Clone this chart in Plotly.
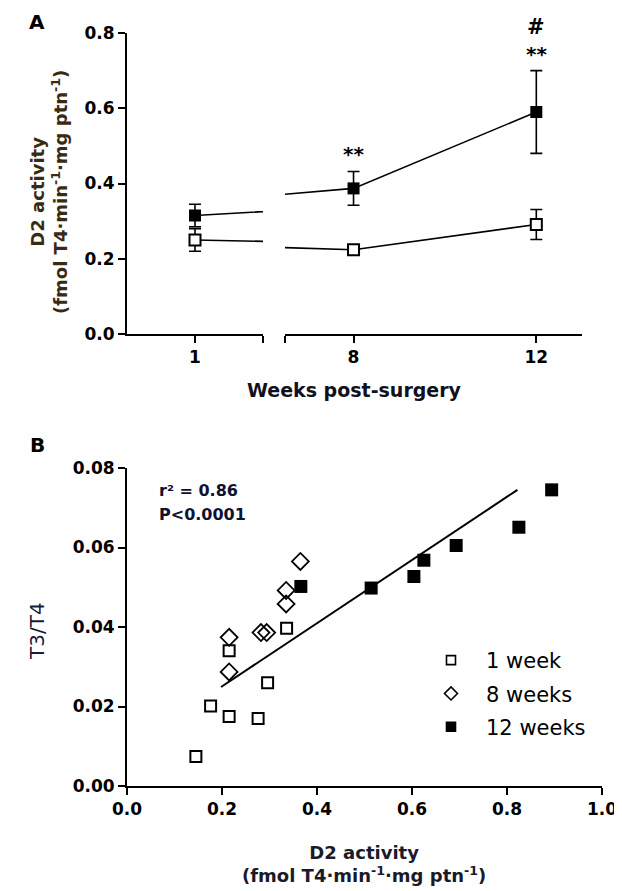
import plotly.graph_objects as go

# ---------------- Panel A data ----------------
weeks = [1, 8, 12]
week_labels = ["1", "8", "12"]
open_mean = [0.250, 0.224, 0.291]
open_sem = [0.030, 0.010, 0.040]
filled_mean = [0.315, 0.387, 0.590]
filled_sem = [0.030, 0.045, 0.110]
sig_week8 = "**"
sig_week12_a = "**"
sig_week12_b = "#"

# ---------------- Panel B data ----------------
w1_d2 = [0.145, 0.176, 0.215, 0.276, 0.296, 0.215, 0.336]
w1_t3t4 = [0.0074, 0.0201, 0.0175, 0.0170, 0.0260, 0.0340, 0.0397]
w8_d2 = [0.215, 0.215, 0.282, 0.294, 0.335, 0.335, 0.365]
w8_t3t4 = [0.0374, 0.0287, 0.0386, 0.0386, 0.0492, 0.0458, 0.0565]
w12_d2 = [0.366, 0.514, 0.604, 0.625, 0.693, 0.825, 0.894]
w12_t3t4 = [0.0502, 0.0498, 0.0527, 0.0568, 0.0605, 0.0651, 0.0745]
fit_d2 = [0.198, 0.822]
fit_t3t4 = [0.0249, 0.0745]
stats_r2 = "r² = 0.86"
stats_p = "P<0.0001"
legend_names = ["1 week", "8 weeks", "12 weeks"]

FONT = "DejaVu Sans, Arial, sans-serif"
W, H = 622, 891
OFF = 8  # page body margin


def px(x):
    return (x - OFF) / W


def py(y):
    return 1 - (y - OFF) / H


fig = go.Figure()

# Panel A traces, drawn on both broken x-axis segments
for xa in ["x", "x2"]:
    fig.add_trace(go.Scatter(
        x=weeks, y=filled_mean, xaxis=xa, yaxis="y", mode="lines+markers",
        line=dict(color="black", width=1.6),
        marker=dict(symbol="square", size=12, color="black"),
        error_y=dict(type="data", array=filled_sem, color="black", thickness=1.6, width=6),
        showlegend=False, cliponaxis=False))
    fig.add_trace(go.Scatter(
        x=weeks, y=open_mean, xaxis=xa, yaxis="y", mode="lines+markers",
        line=dict(color="black", width=1.6),
        marker=dict(symbol="square", size=11, color="white", line=dict(color="black", width=2)),
        error_y=dict(type="data", array=open_sem, color="black", thickness=1.6, width=6),
        showlegend=False, cliponaxis=False))

# Panel B traces
fig.add_trace(go.Scatter(
    x=fit_d2, y=fit_t3t4, xaxis="x3", yaxis="y3", mode="lines",
    line=dict(color="black", width=2), showlegend=False))
sym = ["square-open", "diamond-open", "square"]
fig.add_trace(go.Scatter(
    x=w1_d2, y=w1_t3t4, xaxis="x3", yaxis="y3", mode="markers", name=legend_names[0],
    marker=dict(symbol=sym[0], size=11, color="black", line=dict(width=2)),
    showlegend=False, cliponaxis=False))
fig.add_trace(go.Scatter(
    x=w8_d2, y=w8_t3t4, xaxis="x3", yaxis="y3", mode="markers", name=legend_names[1],
    marker=dict(symbol=sym[1], size=13, color="black", line=dict(width=1.8)),
    showlegend=False, cliponaxis=False))
fig.add_trace(go.Scatter(
    x=w12_d2, y=w12_t3t4, xaxis="x3", yaxis="y3", mode="markers", name=legend_names[2],
    marker=dict(symbol=sym[2], size=13, color="black"),
    showlegend=False, cliponaxis=False))
# legend entries (smaller symbols, as in the reference legend)
for i, nm in enumerate(legend_names):
    fig.add_trace(go.Scatter(
        x=[None], y=[None], xaxis="x3", yaxis="y3", mode="markers", name=nm,
        legendgroup=nm,
        marker=dict(symbol=sym[i], size=9 if i != 1 else 10, color="black",
                    line=dict(width=1.6, color="black"))))

tickfont = dict(family=FONT, size=17, color="black", weight="bold")
axis_common = dict(showline=True, linecolor="black", linewidth=2, ticks="outside",
                   ticklen=7, tickwidth=2, tickcolor="black", showgrid=False,
                   zeroline=False, tickfont=tickfont, automargin=False)

fig.update_layout(
    width=W, height=H, margin=dict(l=0, r=0, t=0, b=0),
    paper_bgcolor="white", plot_bgcolor="white",
    font=dict(family=FONT, color="black"),
    xaxis=dict(domain=[px(127), px(263)], range=[0, 2], anchor="y",
               tickvals=[1, 2], ticktext=[week_labels[0], ""], **axis_common),
    xaxis2=dict(domain=[px(285), px(582)], range=[6.5, 13], anchor="y",
                tickvals=[6.5, 8, 12], ticktext=["", week_labels[1], week_labels[2]],
                **axis_common),
    yaxis=dict(domain=[py(334), py(33)], range=[0, 0.8], anchor="x",
               tickvals=[0, 0.2, 0.4, 0.6, 0.8], tickformat=".1f", **axis_common),
    xaxis3=dict(domain=[px(127), px(602)], range=[0, 1.0], anchor="y3",
                tickvals=[0, 0.2, 0.4, 0.6, 0.8, 1.0], tickformat=".1f", **axis_common),
    yaxis3=dict(domain=[py(786), py(468)], range=[0, 0.08], anchor="x3",
                tickvals=[0, 0.02, 0.04, 0.06, 0.08], tickformat=".2f", **axis_common),
    legend=dict(x=px(416), y=py(640), xanchor="left", yanchor="top",
                font=dict(family=FONT, size=21, color="black"),
                itemwidth=60, tracegroupgap=3, bgcolor="rgba(0,0,0,0)"),
)


def label(x, y, text, size, bold=True, color="black", angle=0, xanchor="center",
          yanchor="middle"):
    f = dict(family=FONT, size=size, color=color)
    if bold:
        f["weight"] = "bold"
    return dict(x=px(x), y=py(y), xref="paper", yref="paper", text=text,
                textangle=angle, showarrow=False, xanchor=xanchor, yanchor=yanchor,
                font=f)


ann = []
# Significance marks
ann.append(dict(x=weeks[1], y=filled_mean[1] + filled_sem[1], xref="x2", yref="y",
                text=sig_week8, showarrow=False, xanchor="center", yanchor="bottom",
                yshift=3, font=dict(family=FONT, size=20, color="black", weight="bold")))
ann.append(dict(x=weeks[2], y=filled_mean[2] + filled_sem[2], xref="x2", yref="y",
                text=sig_week12_a, showarrow=False, xanchor="center", yanchor="bottom",
                yshift=3, font=dict(family=FONT, size=20, color="black", weight="bold")))
ann.append(dict(x=weeks[2], y=filled_mean[2] + filled_sem[2], xref="x2", yref="y",
                text=sig_week12_b, showarrow=False, xanchor="center", yanchor="bottom",
                yshift=30, font=dict(family=FONT, size=21, color="black", weight="bold")))
# Panel labels
ann.append(label(37, 8, "A", 20, yanchor="top"))
ann.append(label(37, 445, "B", 20))
# Axis titles panel A
ann.append(label(49, 192, "D2 activity<br>(fmol T4·min<sup>-1</sup>·mg ptn<sup>-1</sup>)",
                 18, color="#3a2a12", angle=-90))
ann.append(label(354, 390, "Weeks post-surgery", 19, color="#101020"))
# Axis titles panel B
ann.append(label(37, 631, "T3/T4", 20, bold=False, color="#1a1a3a", angle=-90))
ann.append(label(364, 864, "D2 activity<br>(fmol T4·min<sup>-1</sup>·mg ptn<sup>-1</sup>)",
                 18, color="#1a1a2a"))
# Stats text
ann.append(label(157, 490, stats_r2, 16, color="#101030", xanchor="left"))
ann.append(label(157, 515, stats_p, 16, color="#101030", xanchor="left"))

fig.update_layout(annotations=ann)
fig.write_html("out.html")
